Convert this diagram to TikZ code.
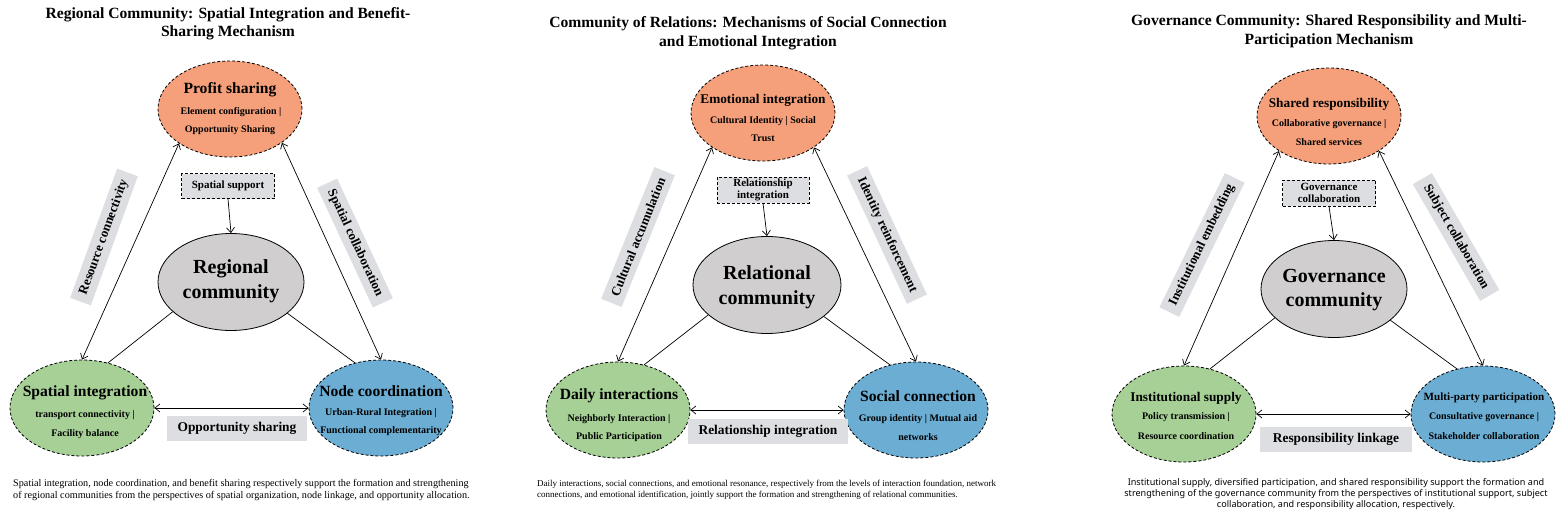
\documentclass[tikz,border=0pt]{standalone}
\usepackage{fontspec}
\setmainfont{Liberation Serif}
\newfontfamily\capsans{Noto Sans}
\usetikzlibrary{shapes.geometric,arrows.meta}
\definecolor{cOrange}{HTML}{F5A07A}
\definecolor{cGreen}{HTML}{A6D096}
\definecolor{cBlue}{HTML}{6BADD3}
\definecolor{cCore}{HTML}{D0CECF}
\definecolor{cLab}{HTML}{DDDEE2}
\tikzset{
  ell/.style={ellipse, draw, dash pattern=on 3pt off 2pt, line width=0.8pt, minimum width=144pt, minimum height=96pt, inner sep=0pt},
  core/.style={ellipse, draw, fill=cCore, line width=0.8pt, minimum width=146pt, minimum height=97pt, inner sep=0pt},
  hd/.style={font=\fontsize{15.6}{18}\selectfont\bfseries, inner sep=0pt},
  hds/.style={font=\fontsize{13.3}{16}\selectfont\bfseries, inner sep=0pt},
  sub/.style={font=\fontsize{10}{12}\selectfont\bfseries, inner sep=0pt},
  coretxt/.style={font=\fontsize{20}{24.5}\selectfont\bfseries, align=center, inner sep=0pt},
  ttl/.style={font=\fontsize{15.6}{18}\selectfont\bfseries, inner sep=0pt},
  dbox/.style={draw, dash pattern=on 3pt off 2pt, line width=0.7pt, fill=cLab, font=\fontsize{11}{12.5}\selectfont\bfseries, align=center, minimum width=92pt, minimum height=26pt, inner xsep=1pt, inner ysep=0pt},
  lab/.style={fill=cLab, font=\fontsize{13.4}{16}\selectfont\bfseries, minimum height=25pt, inner xsep=10.5pt},
  rlab/.style={fill=cLab, font=\fontsize{13}{15}\selectfont\bfseries, minimum height=22pt, inner ysep=0pt, inner xsep=8pt},
  arr/.style={line width=0.7pt, arrows={Straight Barb[length=5pt,width=8pt]-Straight Barb[length=5pt,width=8pt]}},
  arr1/.style={line width=0.7pt, -{Straight Barb[length=5pt,width=8pt]}},
  ln/.style={line width=0.7pt},
  captxt/.style={font=\fontsize{10.2}{12}\selectfont, align=left, inner sep=0pt}
}
\begin{document}
\begin{tikzpicture}[x=1pt,y=-1pt]
\useasboundingbox[fill=white] (0,0) rectangle (1564,519);

% ================= Panel 1 =================
\node[ttl] (t1a) at (228,15) {Regional Community: Spatial Integration and Benefit-};
\node[ttl] (t1b) at (228,33) {Sharing Mechanism};

\node[ell, fill=cOrange] (ps) at (230,109) {};
\node[hd] (psa) at (230,90) {Profit sharing};
\node[sub] (psb) at (231,112) {Element configuration |};
\node[sub] (psc) at (230,130) {Opportunity Sharing};

\node[dbox, minimum width=93pt, minimum height=25pt] (sp) at (228,186) {Spatial support};

\node[core] (rc) at (231,282) {};
\node[coretxt] (rct) at (231,281) {Regional\\community};

\node[ell, fill=cGreen] (si) at (82,408) {};
\node[hd] (sia) at (85,393) {Spatial integration};
\node[sub] (sib) at (85,415) {transport connectivity |};
\node[sub] (sic) at (85,434) {Facility balance};

\node[ell, fill=cBlue] (nc) at (381,408) {};
\node[hd] (nca) at (381,391) {Node coordination};
\node[sub] (ncb) at (381,413) {Urban-Rural Integration |};
\node[sub] (ncc) at (381,431) {Functional complementarity};

\node[lab] (os) at (237,428) {Opportunity sharing};
\node[rlab, rotate=70] (l1a) at (104,237) {Resource connectivity};
\node[rlab, rotate=-65] (l1b) at (355,243) {Spatial collaboration};

\draw[arr] (ps.214) -- (si.north);
\draw[arr] (ps.-33) -- (nc.north);
\draw[arr] (si.east) -- (nc.west);
\draw[arr1] (sp.south) -- (rc.north);
\draw[ln] (rc.207) -- (si.60);
\draw[ln] (rc.-29) -- (nc.120);

\node[captxt, anchor=west] (cap1) at (13,490) {Spatial integration, node coordination, and benefit sharing respectively support the formation and strengthening\\of regional communities from the perspectives of spatial organization, node linkage, and opportunity allocation.};

% ================= Panel 2 =================
\node[ttl] (t2a) at (748,24) {Community of Relations: Mechanisms of Social Connection};
\node[ttl] (t2b) at (748,43) {and Emotional Integration};

\node[ell, fill=cOrange] (ei) at (763,113) {};
\node[hds] (eia) at (763,100) {Emotional integration};
\node[sub] (eib) at (763,121) {Cultural Identity | Social};
\node[sub] (eic) at (763,138) {Trust};

\node[dbox] (ri) at (763,190) {Relationship\\integration};

\node[core, minimum width=148pt] (rc2) at (767,285) {};
\node[coretxt] (rc2t) at (767,287) {Relational\\community};

\node[ell, fill=cGreen] (di) at (618,410) {};
\node[hd] (dia) at (619,396) {Daily interactions};
\node[sub] (dib) at (619,419) {Neighborly Interaction |};
\node[sub] (dic) at (619,437) {Public Participation};

\node[ell, fill=cBlue] (sc) at (916,410) {};
\node[hd] (sca) at (918,396) {Social connection};
\node[sub] (scb) at (918,419) {Group identity | Mutual aid};
\node[sub] (scc) at (918,437) {networks};

\node[lab] (rb) at (768,431) {Relationship integration};
\node[rlab, rotate=68] (l2a) at (638,237) {Cultural accumulation};
\node[rlab, rotate=-65] (l2b) at (887,235) {Identity reinforcement};

\draw[arr] (ei.214) -- (di.north);
\draw[arr] (ei.-34) -- (sc.north);
\draw[arr] (di.east) -- (sc.west);
\draw[arr1] (ri.south) -- (rc2.north);
\draw[ln] (rc2.207) -- (di.60);
\draw[ln] (rc2.-29) -- (sc.120);

\node[captxt, anchor=west, font=\fontsize{9}{11}\selectfont] (cap2) at (537,490) {Daily interactions, social connections, and emotional resonance, respectively from the levels of interaction foundation, network\\connections, and emotional identification, jointly support the formation and strengthening of relational communities.};

% ================= Panel 3 =================
\node[ttl] (t3a) at (1329,22) {Governance Community: Shared Responsibility and Multi-};
\node[ttl] (t3b) at (1329,41) {Participation Mechanism};

\node[ell, fill=cOrange] (sr) at (1329,116) {};
\node[hds] (sra) at (1329,104) {Shared responsibility};
\node[sub] (srb) at (1329,124) {Collaborative governance |};
\node[sub] (src) at (1329,142) {Shared services};

\node[dbox, minimum width=93pt] (gcb) at (1329,193) {Governance\\collaboration};

\node[core] (gc) at (1334,289) {};
\node[coretxt] (gct) at (1334,290) {Governance\\community};

\node[ell, fill=cGreen] (is) at (1184,414) {};
\node[hds] (isa) at (1186,398) {Institutional supply};
\node[sub] (isb) at (1186,417) {Policy transmission |};
\node[sub] (isc) at (1186,436) {Resource coordination};

\node[ell, fill=cBlue] (mp) at (1483,414) {};
\node[hds, font=\fontsize{11.1}{13}\selectfont\bfseries] (mpa) at (1484,398) {Multi-party participation};
\node[sub] (mpb) at (1484,417) {Consultative governance |};
\node[sub] (mpc) at (1484,436) {Stakeholder collaboration};

\node[lab, inner xsep=12.5pt] (rlk) at (1336,439) {Responsibility linkage};
\node[rlab, rotate=64] (l3a) at (1202,245) {Institutional embedding};
\node[rlab, rotate=-60] (l3b) at (1456,237) {Subject collaboration};

\draw[arr] (sr.215) -- (is.north);
\draw[arr] (sr.-35) -- (mp.north);
\draw[arr] (is.east) -- (mp.west);
\draw[arr1] (gcb.south) -- (gc.north);
\draw[ln] (gc.206) -- (is.60);
\draw[ln] (gc.-29) -- (mp.120);

\node[captxt, align=center, font=\capsans\fontsize{9.1}{11}\selectfont] (cap3) at (1336,494) {Institutional supply, diversified participation, and shared responsibility support the formation and\\strengthening of the governance community from the perspectives of institutional support, subject\\collaboration, and responsibility allocation, respectively.};
\end{tikzpicture}
\end{document}
